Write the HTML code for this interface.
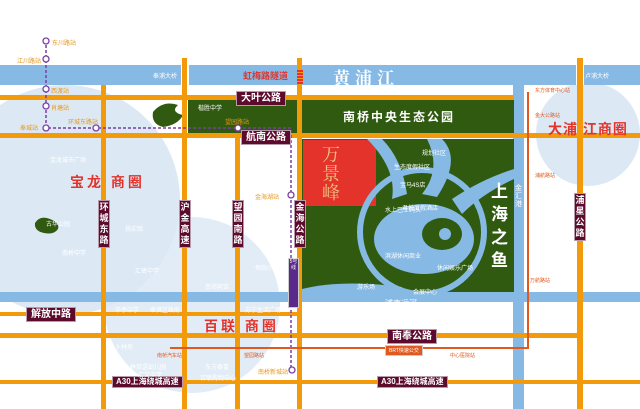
<!DOCTYPE html>
<html><head><meta charset="utf-8"><style>
body{margin:0}
#m{position:relative;width:640px;height:409px;overflow:hidden;background:#fff;font-family:"Liberation Sans","Noto Sans CJK SC",sans-serif}
.a{position:absolute}
.o{position:absolute;background:#f29a0a}
.r{position:absolute;background:#86b9e3}
.lb{position:absolute;background:#5c0b2c;color:#fff;font-weight:bold;font-size:10px;line-height:13px;text-align:center;border:1px solid #b89aaa;white-space:nowrap}
.v{width:10px;font-size:9px;line-height:11px;white-space:normal;padding:1px 0}
.t{position:absolute;font-size:6px;color:#fff;white-space:nowrap}
.y{position:absolute;font-size:6px;color:#e8961a;white-space:nowrap}
.rd{position:absolute;font-size:5px;color:#e05a20;white-space:nowrap}
.big{position:absolute;color:#e3332b;font-weight:bold;font-size:14px;letter-spacing:3px;white-space:nowrap}
</style></head><body><div id="m">
<svg class="a" style="left:0;top:0" width="640" height="409">
<circle cx="65" cy="200" r="115" fill="#dce9f5"/>
<circle cx="192" cy="305" r="88" fill="#dce9f5" opacity=".85"/>
<circle cx="588" cy="134" r="52" fill="#dce9f5"/>
</svg>
<div class="r" style="left:0;top:65px;width:640px;height:20px"></div>
<div class="a" style="left:181px;top:58px;width:8px;height:27px;background:#fff"></div>
<div class="a" style="left:576px;top:58px;width:8px;height:27px;background:#fff"></div>
<div class="r" style="left:513px;top:85px;width:11px;height:324px"></div>
<div class="r" style="left:0;top:292px;width:640px;height:10px"></div>
<div class="a" style="left:188px;top:100px;width:326px;height:33px;background:#2f5a10"></div>
<div class="a" style="left:302px;top:139px;width:212px;height:153px;background:#2f5a10"></div>
<div class="a" style="left:303px;top:140px;width:73px;height:66px;background:#e3332b"></div>
<svg class="a" style="left:302px;top:139px" width="212" height="153">
<circle cx="120" cy="93" r="62" fill="none" stroke="#86b9e3" stroke-width="6"/>
<path d="M65 0 Q95 30 90 60 L105 55 Q100 20 80 0Z M125 0 Q140 30 120 55 L135 58 Q160 20 140 0Z M150 60 Q180 40 212 30 L212 40 Q180 55 160 75Z" fill="#86b9e3"/>
<ellipse cx="122" cy="100" rx="50" ry="35" fill="#86b9e3"/>
<ellipse cx="140" cy="95" rx="20" ry="16" fill="#2f5a10"/>
<circle cx="143" cy="95" r="6" fill="#86b9e3"/>
<path d="M0 150 Q40 140 100 148 L100 153 L0 153Z" fill="#86b9e3"/>
</svg>
<svg class="a" style="left:148px;top:100px" width="40" height="30"><path d="M5 12 Q15 0 30 5 Q22 12 35 15 Q30 25 15 27 Q3 24 5 12Z" fill="#2f5a10"/></svg>
<svg class="a" style="left:32px;top:215px" width="30" height="22"><path d="M3 8 Q8 0 18 4 Q28 8 26 14 Q22 20 12 18 Q2 16 3 8Z" fill="#2f5a10"/></svg>
<div class="o" style="left:0;top:95px;width:514px;height:5px"></div>
<div class="o" style="left:0;top:133px;width:640px;height:5px"></div>
<div class="o" style="left:0;top:312px;width:297px;height:4px"></div>
<div class="o" style="left:0;top:333px;width:583px;height:5px"></div>
<div class="o" style="left:0;top:380px;width:640px;height:4px"></div>
<div class="o" style="left:101px;top:85px;width:5px;height:324px"></div>
<div class="o" style="left:182px;top:58px;width:5px;height:351px"></div>
<div class="o" style="left:235px;top:133px;width:5px;height:276px"></div>
<div class="o" style="left:297px;top:58px;width:5px;height:351px"></div>
<div class="o" style="left:577px;top:58px;width:6px;height:351px"></div>
<div class="a" style="left:297px;top:70px;width:6px;height:14px;background:repeating-linear-gradient(#e3332b 0 2px,#f29a0a 2px 3px)"></div>
<svg class="a" style="left:0;top:0" width="640" height="409">
<path d="M46 40 V128 H291 V370" fill="none" stroke="#7a3fa6" stroke-width="1.5" stroke-dasharray="3 2"/>
<path d="M170 348 H528 V92" fill="none" stroke="#e05a20" stroke-width="2"/>
<g fill="#fff" stroke="#7a3fa6" stroke-width="1.3"><circle cx="46" cy="41" r="3"/><circle cx="46" cy="59" r="3"/><circle cx="46" cy="89" r="3"/><circle cx="46" cy="106" r="3"/><circle cx="46" cy="128" r="3"/><circle cx="96" cy="128" r="3"/><circle cx="238" cy="128" r="3"/><circle cx="291" cy="195" r="3"/><circle cx="292" cy="370" r="3"/></g>
</svg>
<div class="a" style="left:288px;top:258px;width:9px;height:48px;background:#5a2a8a;border:1px solid #ccc;color:#fff;font-size:5px;line-height:6px;text-align:center">5号线</div>
<div class="a" style="left:333px;top:64px;font-size:17px;font-weight:bold;color:#fff;letter-spacing:5px;font-family:'Liberation Serif','Noto Serif CJK SC',serif">黄浦江</div>
<div class="a" style="left:243px;top:69px;font-size:9px;font-weight:bold;color:#e3332b">虹梅路隧道</div>
<div class="t" style="left:153px;top:71px">奉浦大桥</div>
<div class="t" style="left:585px;top:71px">卢浦大桥</div>
<div class="a" style="left:343px;top:108px;font-size:12px;font-weight:bold;color:#fff;letter-spacing:2px">南桥中央生态公园</div>
<div class="lb" style="left:236px;top:91px;padding:0 4px">大叶公路</div>
<div class="lb" style="left:241px;top:130px;padding:0 4px">航南公路</div>
<div class="lb" style="left:26px;top:307px;padding:0 4px">解放中路</div>
<div class="lb" style="left:387px;top:329px;padding:0 4px">南奉公路</div>
<div class="lb" style="left:112px;top:376px;padding:0 3px;font-size:8px;line-height:10px">A30上海绕城高速</div>
<div class="lb" style="left:377px;top:376px;padding:0 3px;font-size:8px;line-height:10px">A30上海绕城高速</div>
<div class="lb v" style="left:98px;top:200px">环城东路</div>
<div class="lb v" style="left:179px;top:200px">沪金高速</div>
<div class="lb v" style="left:232px;top:200px">望园南路</div>
<div class="lb v" style="left:294px;top:200px">金海公路</div>
<div class="lb v" style="left:574px;top:193px">浦星公路</div>
<div class="a" style="left:385px;top:298px;font-size:8px;color:#fff">浦南运河</div>
<div class="a" style="left:515px;top:185px;font-size:7px;color:#fff;width:8px;line-height:8px">金汇港</div>
<div class="a" style="left:491px;top:180px;font-size:17px;font-weight:bold;color:#fff;width:18px;line-height:23px">上海之鱼</div>
<div class="a" style="left:322px;top:145px;font-size:18px;color:#f0c080;width:20px;line-height:19px;font-family:'Noto Serif CJK SC',serif">万景峰</div>
<div class="big" style="left:70px;top:172px">宝龙 商圈</div>
<div class="big" style="left:204px;top:316px">百联 商圈</div>
<div class="big" style="left:548px;top:119px;letter-spacing:1px">大浦 江商圈</div>
<div class="a" style="left:385px;top:345px;background:#e05a20;color:#fff;font-size:5px;padding:1px 3px;border:1px solid #ccc">BRT快速公交</div>
<div class="y" style="left:52px;top:38px">东川路站</div>
<div class="y" style="left:17px;top:56px">江川路站</div>
<div class="y" style="left:51px;top:86px">西渡站</div>
<div class="y" style="left:51px;top:103px">肖塘站</div>
<div class="y" style="left:20px;top:123px">奉城站</div>
<div class="y" style="left:68px;top:117px">环城东路站</div>
<div class="y" style="left:225px;top:117px">望园路站</div>
<div class="y" style="left:255px;top:192px">金海湖站</div>
<div class="y" style="left:258px;top:367px">南桥新城站</div>
<div class="rd" style="left:535px;top:87px">东方体育中心站</div>
<div class="rd" style="left:535px;top:112px">金大公路站</div>
<div class="rd" style="left:535px;top:172px">浦航路站</div>
<div class="rd" style="left:530px;top:277px">万航路站</div>
<div class="rd" style="left:157px;top:352px">南桥汽车站</div>
<div class="rd" style="left:244px;top:352px">望园路站</div>
<div class="rd" style="left:450px;top:352px">中心医院站</div>
<div class="t" style="left:198px;top:103px">楷胜中学</div>
<div class="t" style="left:422px;top:148px">规划社区</div>
<div class="t" style="left:400px;top:180px">宝马4S店</div>
<div class="t" style="left:402px;top:203px">君悦度假酒店</div>
<div class="t" style="left:394px;top:162px">生态度假社区</div>
<div class="t" style="left:385px;top:205px">水上巴士码头</div>
<div class="t" style="left:385px;top:251px">滨湖休闲商业</div>
<div class="t" style="left:437px;top:263px">休闲娱乐广场</div>
<div class="t" style="left:357px;top:282px">游乐场</div>
<div class="t" style="left:413px;top:287px">会展中心</div>
<div class="t" style="left:50px;top:155px">宝龙城市广场</div>
<div class="t" style="left:46px;top:219px">古华公园</div>
<div class="t" style="left:125px;top:224px">扬实验</div>
<div class="t" style="left:62px;top:248px">南桥中学</div>
<div class="t" style="left:135px;top:266px">汇贤中学</div>
<div class="t" style="left:205px;top:282px">南郊宾馆</div>
<div class="t" style="left:255px;top:263px">恒田小</div>
<div class="t" style="left:115px;top:305px">华亭中学</div>
<div class="t" style="left:150px;top:305px">奉贤区政府</div>
<div class="t" style="left:245px;top:305px">苏宁生活广场</div>
<div class="t" style="left:115px;top:342px">卜林苑</div>
<div class="t" style="left:205px;top:362px">东方泰富</div>
<div class="t" style="left:200px;top:373px">百联购物中心</div>
<div class="t" style="left:130px;top:362px">林双语幼儿园</div>
<div class="t" style="left:138px;top:370px">汇文中学</div>
</div></body></html>
